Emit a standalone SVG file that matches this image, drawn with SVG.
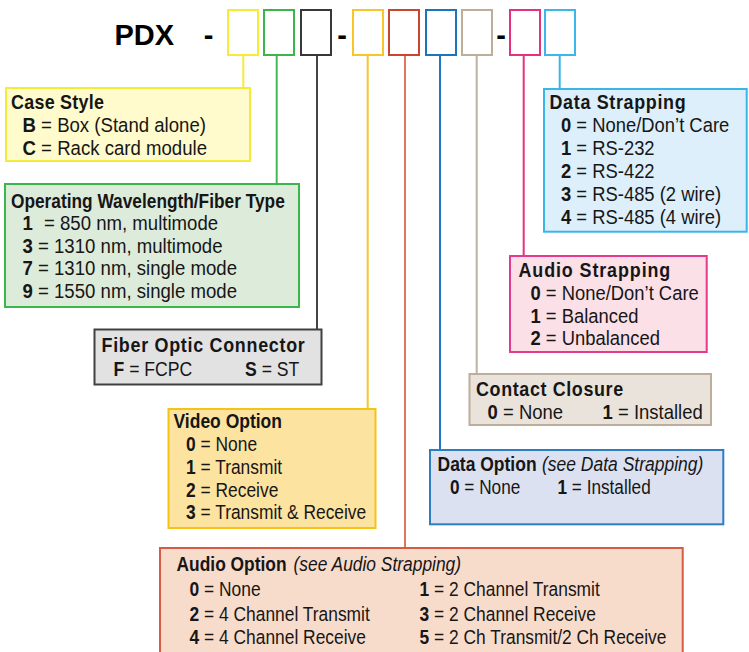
<svg xmlns="http://www.w3.org/2000/svg" width="749" height="652" viewBox="0 0 749 652">
<style>
text{font-family:"Liberation Sans",Arial,sans-serif;fill:#161616;font-size:19.5px}
.t{font-weight:bold}
.b{font-weight:bold}
.i{font-style:italic;font-weight:normal}
.big{font-size:29px;font-weight:bold;fill:#000}
.slot{fill:#fff;stroke-width:2}
.box{stroke-width:2}
.c{fill:none;stroke-width:2}
</style>
<rect width="749" height="652" fill="#fff"/>

<g id="code">
<text class="big" x="114.5" y="45">PDX</text>
<text class="big" x="208.5" y="45" text-anchor="middle">-</text>
<text class="big" x="342" y="45" text-anchor="middle">-</text>
<text class="big" x="501" y="45" text-anchor="middle">-</text>
<rect id="slot-case" class="slot" x="228" y="10" width="30" height="45" stroke="#F6EC35"/>
<rect id="slot-wave" class="slot" x="264" y="10" width="30" height="45" stroke="#3DB54A"/>
<rect id="slot-conn" class="slot" x="301" y="10" width="30" height="45" stroke="#383838"/>
<rect id="slot-video" class="slot" x="353" y="10" width="30" height="45" stroke="#F8C627"/>
<rect id="slot-audio" class="slot" x="389" y="10" width="30" height="45" stroke="#C9452E"/>
<rect id="slot-data" class="slot" x="426" y="10" width="30" height="45" stroke="#1C74BC"/>
<rect id="slot-contact" class="slot" x="462" y="10" width="30" height="45" stroke="#BDAE9A"/>
<rect id="slot-astrap" class="slot" x="510" y="10" width="30" height="45" stroke="#E7307F"/>
<rect id="slot-dstrap" class="slot" x="545" y="10" width="30" height="45" stroke="#3CB7EA"/>
</g>

<g id="connectors">
<line class="c" x1="243.3" y1="56" x2="243.3" y2="88" stroke="#F6EB3A"/>
<line class="c" x1="276.7" y1="56" x2="276.7" y2="184" stroke="#46B858"/>
<line class="c" x1="317" y1="56" x2="317" y2="329" stroke="#444"/>
<line class="c" x1="367.7" y1="56" x2="367.7" y2="409" stroke="#F7C531"/>
<line class="c" x1="405" y1="56" x2="405" y2="548" stroke="#DE7760"/>
<line class="c" x1="440" y1="56" x2="440" y2="450" stroke="#1F78C1"/>
<line class="c" x1="476.7" y1="56" x2="476.7" y2="374" stroke="#BFB1A1"/>
<line class="c" x1="523.7" y1="56" x2="523.7" y2="256" stroke="#E5327F"/>
<line class="c" x1="559.7" y1="56" x2="559.7" y2="89" stroke="#3AB5E8"/>
</g>

<g id="case-style">
<rect class="box" x="6" y="88" width="244" height="73" fill="#FFFBCC" stroke="#F4EA3A"/>
<text class="t" transform="translate(11,108.5) scale(.92,1)" textLength="101">Case Style</text>
<text transform="translate(22.5,131.5) scale(.954,1)"><tspan class="b">B</tspan> = Box (Stand alone)</text>
<text transform="translate(22.5,154.5) scale(.954,1)"><tspan class="b">C</tspan> = Rack card module</text>
</g>

<g id="wavelength">
<rect class="box" x="5" y="184" width="294" height="123" fill="#DDEBDB" stroke="#3CB64B"/>
<text class="t" transform="translate(11,208) scale(.887,1)">Operating Wavelength/Fiber Type</text>
<text transform="translate(22.5,230) scale(.954,1)"><tspan class="b">1</tspan><tspan x="22.5">= 850 nm, multimode</tspan></text>
<text transform="translate(22.5,252.5) scale(.954,1)"><tspan class="b">3</tspan> = 1310 nm, multimode</text>
<text transform="translate(22.5,275) scale(.954,1)"><tspan class="b">7</tspan> = 1310 nm, single mode</text>
<text transform="translate(22.5,297.5) scale(.954,1)"><tspan class="b">9</tspan> = 1550 nm, single mode</text>
</g>

<g id="connector">
<rect class="box" x="94.5" y="329.5" width="227" height="55" fill="#E2E2E2" stroke="#404040"/>
<text class="t" transform="translate(101.5,352) scale(.92,1)" textLength="221">Fiber Optic Connector</text>
<text transform="translate(113.5,375.5) scale(.903,1)"><tspan class="b">F</tspan> = FCPC</text>
<text transform="translate(245,375.5) scale(.903,1)"><tspan class="b">S</tspan> = ST</text>
</g>

<g id="video-option">
<rect class="box" x="168.5" y="409" width="207" height="119" fill="#FDE3A0" stroke="#F5C216"/>
<text class="t" transform="translate(173.5,428) scale(.897,1)">Video Option</text>
<text transform="translate(186,451) scale(.892,1)"><tspan class="b">0</tspan> = None</text>
<text transform="translate(186,474) scale(.892,1)"><tspan class="b">1</tspan> = Transmit</text>
<text transform="translate(186,496.5) scale(.892,1)"><tspan class="b">2</tspan> = Receive</text>
<text transform="translate(186,519) scale(.892,1)"><tspan class="b">3</tspan> = Transmit &amp; Receive</text>
</g>

<g id="audio-option">
<rect class="box" x="160" y="548" width="522.7" height="112" fill="#F8DCCB" stroke="#D65B42"/>
<text class="t" transform="translate(176.5,571) scale(.892,1)">Audio Option <tspan class="i" x="131.2">(see Audio Strapping)</tspan></text>
<text transform="translate(189.5,596) scale(.892,1)"><tspan class="b">0</tspan> = None</text>
<text transform="translate(189.5,620.5) scale(.892,1)"><tspan class="b">2</tspan> = 4 Channel Transmit</text>
<text transform="translate(189.5,644) scale(.892,1)"><tspan class="b">4</tspan> = 4 Channel Receive</text>
<text transform="translate(419.5,596) scale(.892,1)"><tspan class="b">1</tspan> = 2 Channel Transmit</text>
<text transform="translate(419.5,620.5) scale(.892,1)"><tspan class="b">3</tspan> = 2 Channel Receive</text>
<text transform="translate(419.5,644) scale(.892,1)"><tspan class="b">5</tspan> = 2 Ch Transmit/2 Ch Receive</text>
</g>

<g id="data-option">
<rect class="box" x="430" y="450" width="293.3" height="74.3" fill="#DCE1F1" stroke="#2D7DC3"/>
<text class="t" transform="translate(437.5,471) scale(.897,1)">Data Option <tspan class="i" x="116.5">(see Data Strapping)</tspan></text>
<text transform="translate(450,494) scale(.882,1)"><tspan class="b">0</tspan> = None</text>
<text transform="translate(557.5,494) scale(.882,1)"><tspan class="b">1</tspan> = Installed</text>
</g>

<g id="contact-closure">
<rect class="box" x="469.5" y="374" width="241.5" height="51" fill="#EAE3DC" stroke="#BDAE9C"/>
<text class="t" transform="translate(476,396) scale(.92,1)" textLength="160">Contact Closure</text>
<text transform="translate(487.5,419) scale(.949,1)"><tspan class="b">0</tspan> = None</text>
<text transform="translate(602.5,419) scale(.949,1)"><tspan class="b">1</tspan> = Installed</text>
</g>

<g id="audio-strapping">
<rect class="box" x="510" y="256" width="196.7" height="96" fill="#FBE0E8" stroke="#E33A8D"/>
<text class="t" transform="translate(518.5,277) scale(.92,1)" textLength="165">Audio Strapping</text>
<text transform="translate(530.5,299.5) scale(.944,1)"><tspan class="b">0</tspan> = None/Don’t Care</text>
<text transform="translate(530.5,322.5) scale(.944,1)"><tspan class="b">1</tspan> = Balanced</text>
<text transform="translate(530.5,345) scale(.944,1)"><tspan class="b">2</tspan> = Unbalanced</text>
</g>

<g id="data-strapping">
<rect class="box" x="544" y="89" width="202.7" height="142.7" fill="#DDEFFB" stroke="#3BB4E8"/>
<text class="t" transform="translate(549.5,109) scale(.92,1)" textLength="148">Data Strapping</text>
<text transform="translate(561,131.5) scale(.944,1)"><tspan class="b">0</tspan> = None/Don’t Care</text>
<text transform="translate(561,154.5) scale(.944,1)"><tspan class="b">1</tspan> = RS-232</text>
<text transform="translate(561,177.5) scale(.944,1)"><tspan class="b">2</tspan> = RS-422</text>
<text transform="translate(561,200.5) scale(.944,1)"><tspan class="b">3</tspan> = RS-485 (2 wire)</text>
<text transform="translate(561,223.5) scale(.944,1)"><tspan class="b">4</tspan> = RS-485 (4 wire)</text>
</g>
</svg>
